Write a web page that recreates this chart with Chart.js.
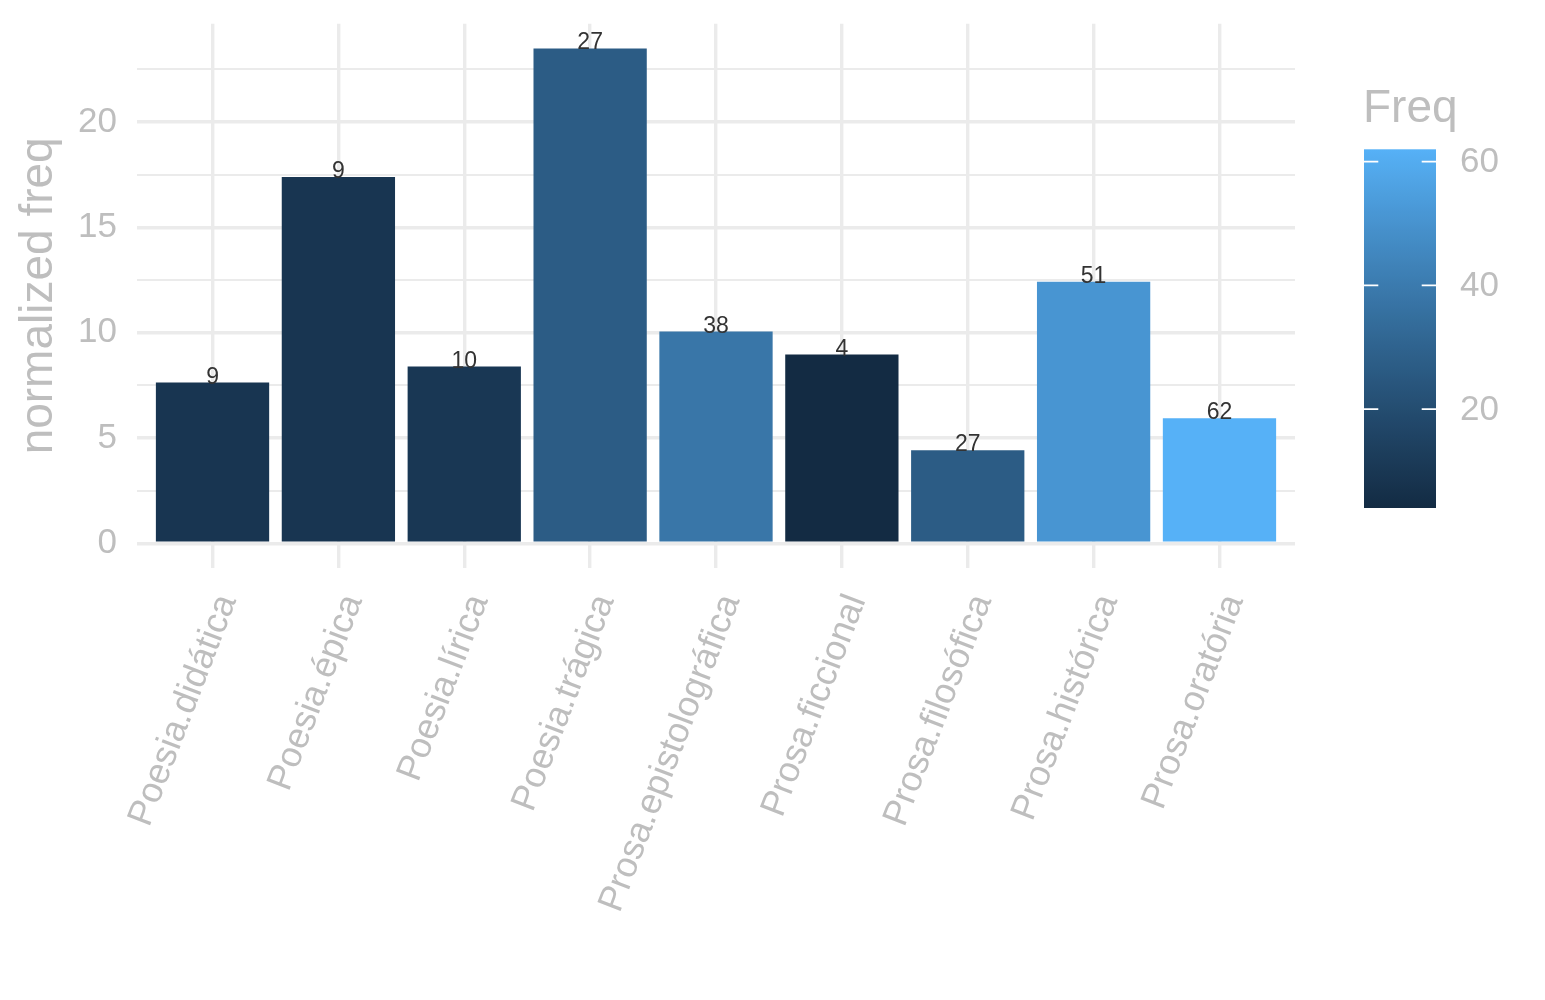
<!DOCTYPE html>
<html>
<head>
<meta charset="utf-8">
<script src="https://cdn.jsdelivr.net/npm/chart.js@4.4.1/dist/chart.umd.min.js"></script>
<style>
html,body{margin:0;padding:0;background:#ffffff;}
#wrap{width:1545px;height:1000px;position:relative;}
</style>
</head>
<body>
<div id="wrap"><canvas id="c" width="1545" height="1000"></canvas></div>
<script>
// ---- data ----
const categories = ['Poesia.didática', 'Poesia.épica', 'Poesia.lírica', 'Poesia.trágica',
  'Prosa.epistolográfica', 'Prosa.ficcional', 'Prosa.filosófica', 'Prosa.histórica', 'Prosa.oratória'];
const normFreq = [7.63, 17.39, 8.39, 23.49, 10.05, 8.96, 4.41, 12.42, 5.93];
const freq = [9, 9, 10, 27, 38, 4, 27, 51, 62];
const yMajorTicks = [0, 5, 10, 15, 20];
const yMinorTicks = [2.5, 7.5, 12.5, 17.5, 22.5];
const legendTicks = [20, 40, 60];
const lowColour = '#132B43';
const highColour = '#56B1F7';

// ---- style ----
const FONT = '"Liberation Sans", Arial, Helvetica, sans-serif';
const GREY = '#BEBEBE';
const GRID = '#EBEBEB';

// ---- Lab colour interpolation (like ggplot's seq_gradient_pal) ----
function hexToRgb(h){return [parseInt(h.slice(1,3),16),parseInt(h.slice(3,5),16),parseInt(h.slice(5,7),16)];}
function toLin(c){c/=255;return c<=0.04045?c/12.92:Math.pow((c+0.055)/1.055,2.4);}
function fromLin(c){const v=c<=0.0031308?12.92*c:1.055*Math.pow(c,1/2.4)-0.055;return Math.max(0,Math.min(255,Math.round(v*255)));}
const Xn=0.95047,Yn=1.0,Zn=1.08883;
function f(t){return t>Math.pow(6/29,3)?Math.cbrt(t):t/(3*Math.pow(6/29,2))+4/29;}
function fi(t){return t>6/29?t*t*t:3*Math.pow(6/29,2)*(t-4/29);}
function rgbToLab(rgb){
  const r=toLin(rgb[0]),g=toLin(rgb[1]),b=toLin(rgb[2]);
  const X=(0.4124564*r+0.3575761*g+0.1804375*b)/Xn;
  const Y=(0.2126729*r+0.7151522*g+0.0721750*b)/Yn;
  const Z=(0.0193339*r+0.1191920*g+0.9503041*b)/Zn;
  const fx=f(X),fy=f(Y),fz=f(Z);
  return [116*fy-16,500*(fx-fy),200*(fy-fz)];
}
function labToRgb(lab){
  const fy=(lab[0]+16)/116,fx=fy+lab[1]/500,fz=fy-lab[2]/200;
  const X=fi(fx)*Xn,Y=fi(fy)*Yn,Z=fi(fz)*Zn;
  const r= 3.2404542*X-1.5371385*Y-0.4985314*Z;
  const g=-0.9692660*X+1.8760108*Y+0.0415560*Z;
  const b= 0.0556434*X-0.2040259*Y+1.0572252*Z;
  return [fromLin(r),fromLin(g),fromLin(b)];
}
const labLow=rgbToLab(hexToRgb(lowColour)), labHigh=rgbToLab(hexToRgb(highColour));
const fMin=Math.min(...freq), fMax=Math.max(...freq);
function colourAt(t){
  const lab=[0,1,2].map(k=>labLow[k]+(labHigh[k]-labLow[k])*t);
  const c=labToRgb(lab);
  return 'rgb('+c[0]+','+c[1]+','+c[2]+')';
}
function colourFor(v){return colourAt((v-fMin)/(fMax-fMin));}

const yMax = Math.max(...normFreq);

// ---- plugin: value labels, rotated x labels, colourbar ----
const extras = {
  id:'extras',
  afterDatasetsDraw(chart){
    const ctx=chart.ctx;
    const meta=chart.getDatasetMeta(0);
    ctx.save();
    ctx.fillStyle='#333333';
    ctx.font='23px '+FONT;
    ctx.textAlign='center';
    ctx.textBaseline='alphabetic';
    meta.data.forEach((el,i)=>{
      ctx.fillText(String(freq[i]), el.x, el.y+1);
    });
    ctx.restore();
  },
  afterDraw(chart){
    const ctx=chart.ctx;
    const xs=chart.scales.x;
    const bottom=chart.chartArea.bottom;
    // x labels
    ctx.save();
    ctx.fillStyle=GREY;
    ctx.font='36px '+FONT;
    ctx.textAlign='right';
    ctx.textBaseline='alphabetic';
    categories.forEach((lab,i)=>{
      const px=xs.getPixelForValue(i+1);
      ctx.save();
      ctx.translate(px+24, bottom+32);
      ctx.rotate(-69*Math.PI/180);
      ctx.fillText(lab,0,0);
      ctx.restore();
    });
    ctx.restore();

    // colourbar legend
    const bx0=1364, bx1=1436, byTop=149.3, byBot=508;
    const yFor=v=>byBot-(v-fMin)/(fMax-fMin)*(byBot-byTop);
    const grad=ctx.createLinearGradient(0,byBot,0,byTop);
    const N=40;
    for(let k=0;k<=N;k++){grad.addColorStop(k/N,colourAt(k/N));}
    ctx.save();
    ctx.fillStyle=grad;
    ctx.fillRect(bx0,byTop,bx1-bx0,byBot-byTop);
    ctx.strokeStyle='#ffffff';
    ctx.lineWidth=1.8;
    legendTicks.forEach(v=>{
      const y=yFor(v);
      ctx.beginPath();
      ctx.moveTo(bx0,y);ctx.lineTo(bx0+14.3,y);
      ctx.moveTo(bx1-14.3,y);ctx.lineTo(bx1,y);
      ctx.stroke();
    });
    ctx.fillStyle=GREY;
    ctx.font='35px '+FONT;
    ctx.textAlign='left';
    ctx.textBaseline='middle';
    legendTicks.forEach(v=>{ctx.fillText(String(v),1460,yFor(v)+1);});
    ctx.font='46px '+FONT;
    ctx.textBaseline='alphabetic';
    ctx.fillText('Freq',1363,122);
    ctx.restore();
  }
};

new Chart(document.getElementById('c'),{
  type:'bar',
  data:{
    datasets:[{
      data: normFreq.map((v,i)=>({x:i+1,y:v})),
      backgroundColor: freq.map(colourFor),
      borderWidth:0,
      categoryPercentage:0.9,
      barPercentage:1.0
    }]
  },
  options:{
    responsive:false,
    animation:false,
    devicePixelRatio:1,
    layout:{autoPadding:false,padding:{top:23.7,right:250,left:0,bottom:0}},
    plugins:{legend:{display:false},tooltip:{enabled:false}},
    scales:{
      x:{
        type:'linear',
        offset:false,
        min:0.4,
        max:categories.length+0.6,
        afterBuildTicks(scale){scale.ticks=categories.map((c,i)=>({value:i+1}));},
        afterFit(scale){scale.height=432;scale.paddingLeft=0;scale.paddingRight=0;scale.paddingTop=0;scale.paddingBottom=0;},
        ticks:{display:false},
        grid:{color:GRID,lineWidth:3.4,drawTicks:false,offset:false},
        border:{display:false}
      },
      y:{
        type:'linear',
        min:-yMax*0.05,
        max:yMax*1.05,
        afterBuildTicks(scale){
          scale.ticks=[...yMajorTicks,...yMinorTicks].sort((a,b)=>a-b).map(v=>({value:v}));
        },
        afterFit(scale){scale.width=137;scale.paddingTop=0;scale.paddingBottom=0;scale.paddingLeft=0;scale.paddingRight=0;},
        ticks:{
          color:GREY,
          font:{family:FONT,size:35},
          padding:20,
          callback:(v)=>yMajorTicks.includes(v)?String(v):''
        },
        grid:{
          color:GRID,
          drawTicks:false,
          lineWidth:(c)=>yMajorTicks.includes(c.tick.value)?3.4:1.9
        },
        border:{display:false},
        title:{
          display:true,
          text:'normalized freq',
          color:GREY,
          font:{family:FONT,size:46},
          padding:{top:12,bottom:0}
        }
      }
    }
  },
  plugins:[extras]
});
</script>
</body>
</html>
